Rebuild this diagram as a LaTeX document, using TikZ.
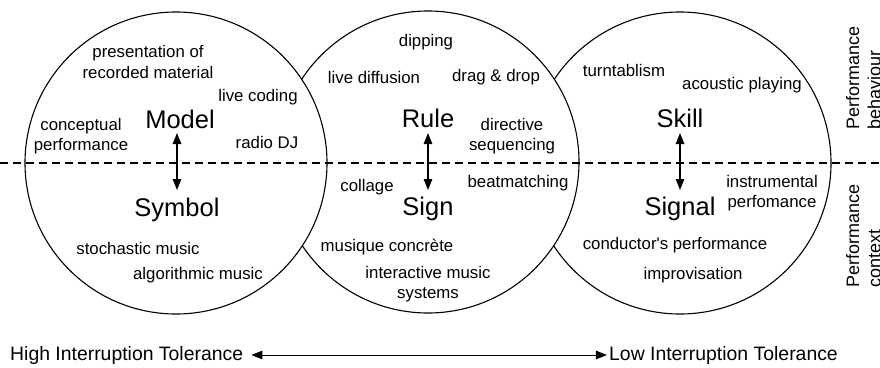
\documentclass[tikz,border=0pt]{standalone}
\usepackage{fontspec}
\setmainfont{Liberation Sans}[Ligatures=TeXOff]
\usetikzlibrary{arrows.meta}
\begin{document}
\begin{tikzpicture}[x=1pt,y=-1pt,
  circ/.style={draw=black, fill=white, line width=1.1pt},
  lbl/.style={font=\fontsize{16.8}{20.5}\selectfont, align=center, inner sep=0pt},
  big/.style={font=\fontsize{25.5}{29}\selectfont, inner sep=0pt},
  side/.style={font=\fontsize{18}{21.5}\selectfont, align=left, rotate=90, anchor=north west, inner sep=0pt},
  tol/.style={font=\fontsize{19.4}{22}\selectfont, inner sep=0pt},
  dbl/.style={{Triangle[length=11pt,width=8.5pt]}-{Triangle[length=11pt,width=8.5pt]}, line width=1.2pt},
  sep/.style={dash pattern=on 8pt off 5pt, line width=1.1pt}]
\useasboundingbox (0,0) rectangle (880,367);
\clip (0,0) rectangle (880,367);
% circles: right, middle, left (left on top)
\draw[circ] (680,163) circle[radius=151pt];
\draw[circ] (428,162) circle[radius=151pt];
\draw[circ] (176,163) circle[radius=151pt];
\draw[sep] (0,163) -- (880,163);
% left circle
\node[lbl] (pres) at (148,62) {presentation of\\recorded material};
\node[lbl] (livec) at (258,97) {live coding};
\node[big] (model) at (180,119) {Model};
\node[lbl] (concep) at (81,136) {conceptual\\performance};
\node[lbl] (radio) at (267,142) {radio DJ};
\node[big] (symbol) at (177,210) {Symbol};
\node[lbl] (stoch) at (138,248) {stochastic music};
\node[lbl] (algo) at (198,275) {algorithmic music};
% middle circle
\node[lbl] (dip) at (426,42) {dipping};
\node[lbl] (livediff) at (374,77) {live diffusion};
\node[lbl] (drag) at (496,77) {drag \& drop};
\node[big] (rule) at (428,118) {Rule};
\node[lbl] (direct) at (512,136) {directive\\sequencing};
\node[lbl] (collage) at (367,187) {collage};
\node[lbl] (beat) at (518,183) {beatmatching};
\node[big] (sign) at (428,209) {Sign};
\node[lbl] (musique) at (387,247) {musique concrète};
\node[lbl] (inter) at (428,284) {interactive music\\systems};
% right circle
\node[lbl] (turn) at (624,70) {turntablism};
\node[lbl] (acou) at (742,85) {acoustic playing};
\node[big] (skill) at (680,118) {Skill};
\node[lbl] (instr) at (772,193) {instrumental\\perfomance};
\node[big] (signal) at (680,209) {Signal};
\node[lbl] (cond) at (675,245) {conductor's performance};
\node[lbl] (impro) at (693,275) {improvisation};
% vertical arrows
\coordinate (mt) at (177,133); \coordinate (mb) at (177,190);
\coordinate (rt) at (428,133); \coordinate (rb) at (428,190);
\coordinate (st) at (680,133); \coordinate (sb) at (680,190);
\draw[dbl] (mt) -- (mb);
\draw[dbl] (rt) -- (rb);
\draw[dbl] (st) -- (sb);
% side labels
\node[side] (behav) at (846,130) {Performance\\behaviour};
\node[side] (context) at (846,288) {Performance\\context};
% bottom
\node[tol, anchor=west] (high) at (10,355) {High Interruption Tolerance};
\node[tol, anchor=east] (low) at (838,355) {Low Interruption Tolerance};
\draw[dbl, line width=1pt] ([xshift=8pt]high.east) -- ([xshift=-2pt]low.west);
\end{tikzpicture}
\end{document}
